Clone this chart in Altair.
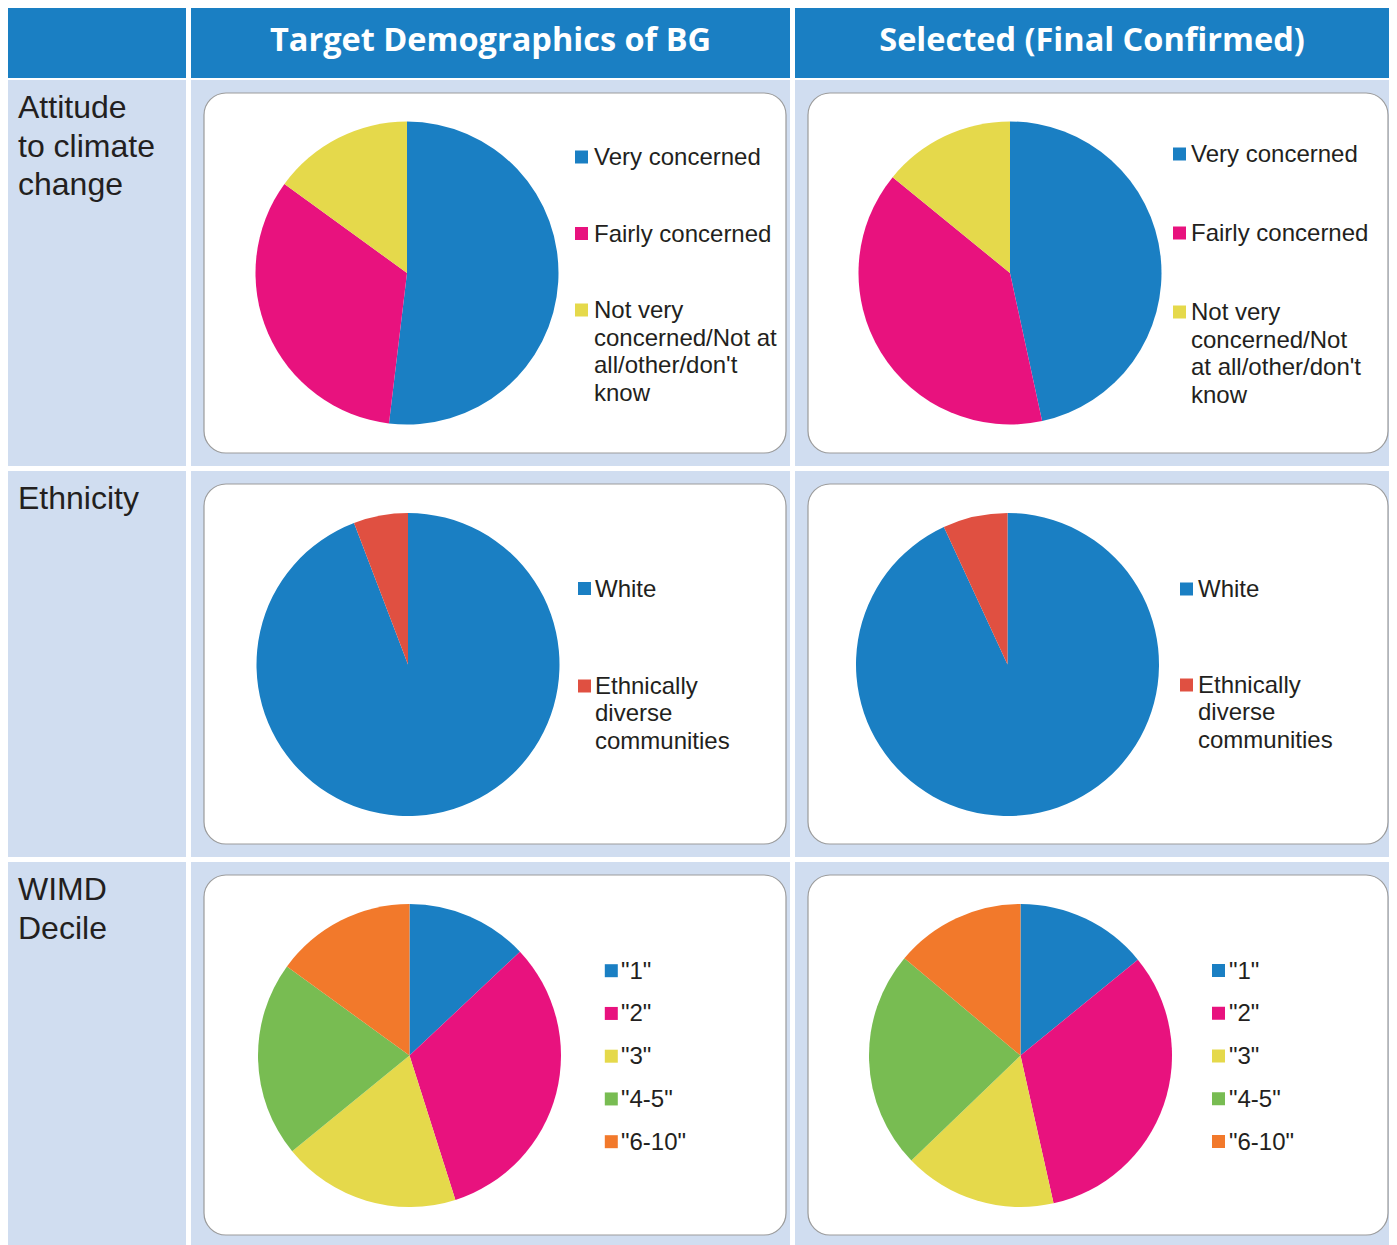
import altair as alt
import pandas as pd

# ---------------- data ----------------
headers = ["", "Target Demographics of BG", "Selected (Final Confirmed)"]
row_labels = ["Attitude|to climate|change", "Ethnicity", "WIMD|Decile"]

attitude_cats = ["Very concerned", "Fairly concerned",
                 "Not very concerned/Not at all/other/don't know"]
attitude_labels_target = ["Very concerned", "Fairly concerned",
                          "Not very|concerned/Not at|all/other/don't|know"]
attitude_labels_selected = ["Very concerned", "Fairly concerned",
                            "Not very|concerned/Not|at all/other/don't|know"]
attitude_target = [51.9, 33.1, 15.0]
attitude_selected = [46.6, 39.3, 14.1]

ethnicity_cats = ["White", "Ethnically diverse communities"]
ethnicity_labels = ["White", "Ethnically|diverse|communities"]
ethnicity_target = [94.2, 5.8]
ethnicity_selected = [93.1, 6.9]

wimd_cats = ['"1"', '"2"', '"3"', '"4-5"', '"6-10"']
wimd_target = [13.0, 32.1, 19.0, 20.9, 15.0]
wimd_selected = [14.1, 32.4, 16.3, 23.3, 13.9]

# ---------------- style ----------------
HEADER_BLUE = "#1a7fc3"
LIGHT = "#d0ddf0"
DARK = "#231f20"
BLUE = "#1a7fc3"
PINK = "#e8127e"
YELLOW = "#e5d94b"
RED = "#e05041"
GREEN = "#78bc52"
ORANGE = "#f2792b"
FONT = "Liberation Sans"
HFONT = "Open Sans"

attitude_colors = [BLUE, PINK, YELLOW]
ethnicity_colors = [BLUE, RED]
wimd_colors = [BLUE, PINK, YELLOW, GREEN, ORANGE]

W0, W1, W2 = 178, 599, 594
HH = 70
RH = [386, 386, 383]


def bg(fill):
    return alt.ViewBackground(fill=fill, stroke="transparent", strokeWidth=0)


def header_cell(text, w):
    df = pd.DataFrame({"t": [text]})
    return alt.Chart(df).mark_text(
        font=HFONT, fontWeight="bold", fontSize=32.5, color="white",
        align="center", baseline="alphabetic"
    ).encode(
        x=alt.value(w / 2), y=alt.value(42.5), text="t:N"
    ).properties(width=w, height=HH, view=bg(HEADER_BLUE))


def label_cell(text, h):
    df = pd.DataFrame({"t": [text]})
    return alt.Chart(df).mark_text(
        font=FONT, fontSize=32, color=DARK, align="left",
        baseline="alphabetic", lineBreak="|", lineHeight=38.5
    ).encode(
        x=alt.value(10), y=alt.value(38), text="t:N"
    ).properties(width=W0, height=h, view=bg(LIGHT))


def pie_cell(cats, labels, values, colors, w, h, cx, cy,
             sq_x, txt_x, y_first, y_last, rect_x2, lh=27.7):
    n = len(cats)
    df = pd.DataFrame({"cat": cats, "label": labels, "value": values,
                       "order": list(range(n))})
    color = alt.Color("cat:N", scale=alt.Scale(domain=cats, range=colors),
                      legend=None)
    yscale = alt.Scale(type="point", domain=list(range(n)),
                       range=[y_first, y_last], padding=0)
    box = alt.Chart(alt.Data(values=[{"k": 1}])).mark_rect(
        fill="white", stroke="#9b9b9b", strokeWidth=1.2, cornerRadius=22
    ).encode(
        x=alt.value(13), x2=alt.value(rect_x2),
        y=alt.value(13), y2=alt.value(373)
    )
    pie = alt.Chart(df).mark_arc(radius=151.5).encode(
        theta=alt.Theta("value:Q", stack=True),
        color=color,
        order=alt.Order("order:Q"),
        x=alt.value(cx), y=alt.value(cy),
    )
    squares = alt.Chart(df).mark_square(size=169, opacity=1, filled=True).encode(
        x=alt.value(sq_x),
        y=alt.Y("order:O", scale=yscale, axis=None),
        color=color,
    )
    texts = alt.Chart(df).mark_text(
        font=FONT, fontSize=24, color=DARK, align="left",
        baseline="alphabetic", dy=8, lineBreak="|", lineHeight=lh
    ).encode(
        x=alt.value(txt_x),
        y=alt.Y("order:O", scale=yscale, axis=None),
        text="label:N",
    )
    return alt.layer(box, pie, squares, texts).properties(
        width=w, height=h, view=bg(LIGHT))


IND = dict(color="independent", y="independent", x="independent",
           theta="independent")

header = alt.hconcat(
    header_cell(headers[0], W0),
    header_cell(headers[1], W1),
    header_cell(headers[2], W2),
    spacing=5,
)

row1 = alt.hconcat(
    label_cell(row_labels[0], RH[0]),
    pie_cell(attitude_cats, attitude_labels_target, attitude_target,
             attitude_colors, W1, RH[0], 216, 193, 390.5, 403, 77, 230, 595),
    pie_cell(attitude_cats, attitude_labels_selected, attitude_selected,
             attitude_colors, W2, RH[0], 215, 193, 384.5, 396, 74, 232, 593),
    spacing=5,
).resolve_scale(**IND)

row2 = alt.hconcat(
    label_cell(row_labels[1], RH[1]),
    pie_cell(ethnicity_cats, ethnicity_labels, ethnicity_target,
             ethnicity_colors, W1, RH[1], 217, 193.5, 393.5, 404, 117.5, 215, 595, lh=27.3),
    pie_cell(ethnicity_cats, ethnicity_labels, ethnicity_selected,
             ethnicity_colors, W2, RH[1], 212.5, 193.5, 391.5, 403, 118, 214, 593, lh=27.3),
    spacing=5,
).resolve_scale(**IND)

row3 = alt.hconcat(
    label_cell(row_labels[2], RH[2]),
    pie_cell(wimd_cats, wimd_cats, wimd_target,
             wimd_colors, W1, RH[2], 218.5, 193.5, 420.3, 430, 108.7, 279.7, 595),
    pie_cell(wimd_cats, wimd_cats, wimd_selected,
             wimd_colors, W2, RH[2], 225.5, 193.5, 423.5, 434, 108.5, 279.5, 593),
    spacing=5,
).resolve_scale(**IND)

body = alt.vconcat(row1, row2, row3, spacing=5).resolve_scale(**IND)

chart = alt.vconcat(header, body, spacing=2).resolve_scale(**IND).properties(
    padding=0, background="white"
).configure_view(strokeWidth=0)

chart.save("out.html", embed_options={"renderer": "svg", "actions": False})
